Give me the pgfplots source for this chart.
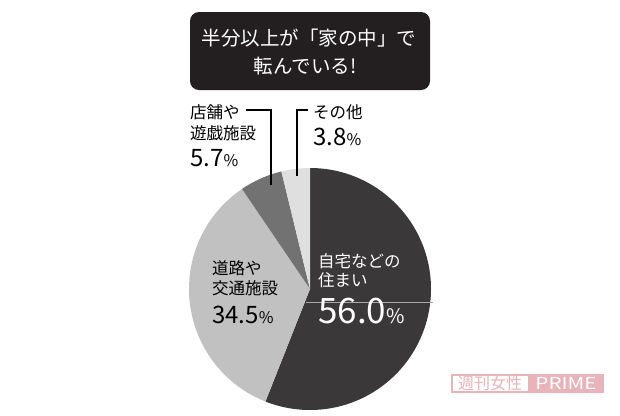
\documentclass[border=0pt]{standalone}
\usepackage{pgfplots}
\pgfplotsset{compat=1.18}
\usepackage{pgfplotstable}
\usepackage{fontspec}
\newfontfamily\jp{Noto Sans CJK JP}
\definecolor{sliceA}{HTML}{3A3838}
\definecolor{sliceB}{HTML}{C1C1C1}
\definecolor{sliceC}{HTML}{727272}
\definecolor{sliceD}{HTML}{DFDFDF}
\definecolor{titlebg}{HTML}{231F20}
\definecolor{logopink}{HTML}{E8B3B9}

% shares in percent, clockwise from 12 o'clock
\pgfplotstableread{
share
56.0
34.5
5.7
3.8
}\piedata

\newcommand\fs[1]{\jp\fontsize{#1bp}{#1bp}\selectfont}

\begin{document}
\begin{tikzpicture}
\pgfplotstablegetelem{0}{share}\of\piedata \let\sA\pgfplotsretval
\pgfplotstablegetelem{1}{share}\of\piedata \let\sB\pgfplotsretval
\pgfplotstablegetelem{2}{share}\of\piedata \let\sC\pgfplotsretval
\pgfplotstablegetelem{3}{share}\of\piedata \let\sD\pgfplotsretval
\pgfmathsetmacro\aA{90}
\pgfmathsetmacro\aB{\aA-3.6*\sA}
\pgfmathsetmacro\aC{\aB-3.6*\sB}
\pgfmathsetmacro\aD{\aC-3.6*\sC}
\pgfmathsetmacro\aE{\aD-3.6*\sD}
\begin{axis}[
    at={(0,0)}, anchor=south west,
    width=620bp, height=413bp, scale only axis,
    xmin=0, xmax=620, ymin=0, ymax=413, y dir=reverse,
    hide axis, clip=false,
  ]
  % pie
  \fill[sliceA] (axis cs:310,289) -- ++(\aA:121bp) arc[start angle=\aA, end angle=\aB, radius=121bp] -- cycle;
  \fill[sliceB] (axis cs:310,289) -- ++(\aB:121bp) arc[start angle=\aB, end angle=\aC, radius=121bp] -- cycle;
  \fill[sliceC] (axis cs:310,289) -- ++(\aC:121bp) arc[start angle=\aC, end angle=\aD, radius=121bp] -- cycle;
  \fill[sliceD] (axis cs:310,289) -- ++(\aD:121bp) arc[start angle=\aD, end angle=\aE, radius=121bp] -- cycle;
  \draw[gray!70, line width=0.6bp] (axis cs:306,302) -- (axis cs:433,302);

  % title box
  \fill[titlebg, rounded corners=9bp] (axis cs:190,12) rectangle (axis cs:430,90);
  \node[inner sep=0pt, anchor=base, white] at (axis cs:309,45.5) {\fs{19.5}半分以上が「家の中」で};
  \node[inner sep=0pt, anchor=base, white] at (axis cs:305,73.5) {\fs{19.5}転んでいる!};

  % leader lines
  \draw[line width=1.5bp] (axis cs:246,110) -- (axis cs:271,110) -- (axis cs:271,185);
  \draw[line width=1.5bp] (axis cs:308,110) -- (axis cs:297,110) -- (axis cs:297,176);

  % labels
  \node[inner sep=0pt, anchor=base west] at (axis cs:190,118) {\fs{16.5}店舗や};
  \node[inner sep=0pt, anchor=base west] at (axis cs:190,139) {\fs{16.5}遊戯施設};
  \node[inner sep=0pt, anchor=base west] at (axis cs:190,166) {\fs{24}5.7\fs{16}\%};

  \node[inner sep=0pt, anchor=base west] at (axis cs:313,118) {\fs{16.5}その他};
  \node[inner sep=0pt, anchor=base west] at (axis cs:313,145) {\fs{24}3.8\fs{16}\%};

  \node[inner sep=0pt, anchor=base west] at (axis cs:212,274) {\fs{16.5}道路や};
  \node[inner sep=0pt, anchor=base west] at (axis cs:212,294) {\fs{16.5}交通施設};
  \node[inner sep=0pt, anchor=base west] at (axis cs:212,323) {\fs{24}34.5\fs{16}\%};

  \node[inner sep=0pt, anchor=base west, white] at (axis cs:318,267) {\fs{16.5}自宅などの};
  \node[inner sep=0pt, anchor=base west, white] at (axis cs:318,286) {\fs{16.5}住まい};
  \node[inner sep=0pt, anchor=base west, white] at (axis cs:318,323) {\fs{35}56.0\fs{20}\%};

  % logo
  \fill[white] (axis cs:452,375) rectangle (axis cs:528,392);
  \fill[logopink] (axis cs:528,375) rectangle (axis cs:603,392);
  \draw[logopink, line width=1.2bp] (axis cs:452,375) rectangle (axis cs:603,392);
  \node[inner sep=0pt, anchor=base, logopink] at (axis cs:490,389.5) {\fs{16}週刊女性};
  \node[inner sep=0pt, anchor=base, white, xscale=1.25] at (axis cs:566,389.5) {\fs{16.5}PRIME};
\end{axis}
\path[use as bounding box] (0,0) rectangle (620bp,413bp);
\end{tikzpicture}
\end{document}
